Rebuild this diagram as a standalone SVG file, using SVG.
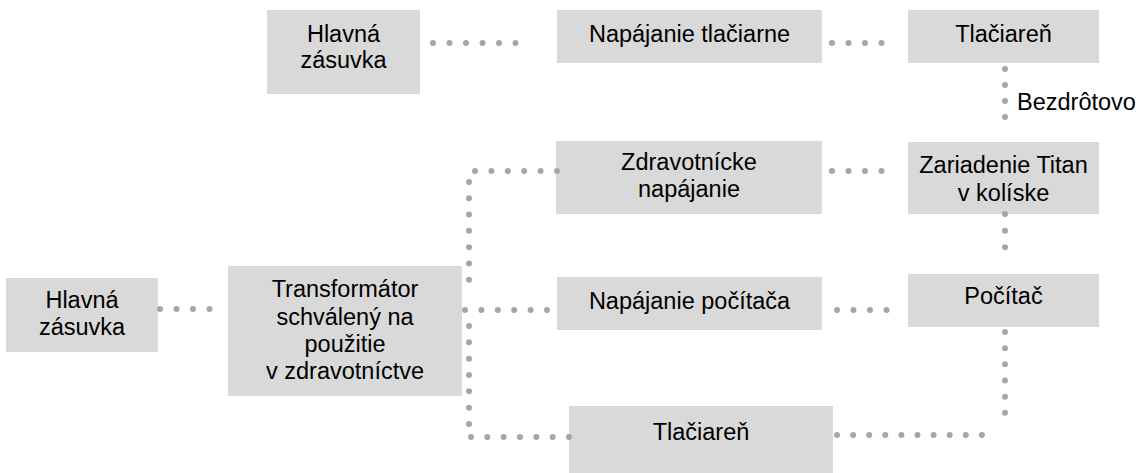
<svg xmlns="http://www.w3.org/2000/svg" width="1143" height="473" viewBox="0 0 1143 473">
<style>
.box{fill:#d9d9d9;}
.t{font-family:"Liberation Sans",Arial,sans-serif;font-size:23.5px;fill:#000;text-anchor:middle;}
.lbl{font-family:"Liberation Sans",Arial,sans-serif;font-size:23.5px;fill:#000;}
.c{fill:none;stroke:#a6a6a6;stroke-width:6;stroke-linecap:round;}
</style>
<rect width="1143" height="473" fill="#fff"/>
<g id="n-hlavna-top">
<rect class="box" x="267" y="10" width="153" height="84"/>
<text class="t" x="343.5" y="42">Hlavná</text>
<text class="t" x="343.5" y="68">zásuvka</text>
</g>
<g id="n-napajanie-tlaciarne">
<rect class="box" x="557" y="10" width="265" height="53"/>
<text class="t" x="689.5" y="42">Napájanie tlačiarne</text>
</g>
<g id="n-tlaciaren-top">
<rect class="box" x="908" y="10" width="191" height="53"/>
<text class="t" x="1003.5" y="42">Tlačiareň</text>
</g>
<g id="n-zdravotnicke">
<rect class="box" x="556" y="141" width="266" height="73"/>
<text class="t" x="689" y="170">Zdravotnícke</text>
<text class="t" x="689" y="197">napájanie</text>
</g>
<g id="n-zariadenie">
<rect class="box" x="908" y="142" width="191" height="72"/>
<text class="t" x="1003.5" y="173">Zariadenie Titan</text>
<text class="t" x="1003.5" y="201">v kolíske</text>
</g>
<g id="n-hlavna-left">
<rect class="box" x="6" y="278" width="152" height="74"/>
<text class="t" x="82" y="308">Hlavná</text>
<text class="t" x="82" y="335">zásuvka</text>
</g>
<g id="n-transformator">
<rect class="box" x="228" y="266" width="234" height="130"/>
<text class="t" x="345" y="297">Transformátor</text>
<text class="t" x="345" y="325">schválený na</text>
<text class="t" x="345" y="352">použitie</text>
<text class="t" x="345" y="379">v zdravotníctve</text>
</g>
<g id="n-napajanie-pocitaca">
<rect class="box" x="557" y="277" width="265" height="53"/>
<text class="t" x="689.5" y="309">Napájanie počítača</text>
</g>
<g id="n-pocitac">
<rect class="box" x="908" y="274" width="191" height="53"/>
<text class="t" x="1003.5" y="304">Počítač</text>
</g>
<g id="n-tlaciaren-bottom">
<rect class="box" x="569" y="406" width="264" height="67"/>
<text class="t" x="701" y="440">Tlačiareň</text>
</g>
<g id="connectors">
<path class="c" d="M433 43H532" stroke-dasharray="0 16.5"/>
<path class="c" d="M832 43H898" stroke-dasharray="0 16.5"/>
<path class="c" d="M1005 69V133" stroke-dasharray="0 16"/>
<path class="c" d="M832 171H898" stroke-dasharray="0 16.5"/>
<path class="c" d="M1005 214V264" stroke-dasharray="0 16.67"/>
<path class="c" d="M837 310H903" stroke-dasharray="0 16.5"/>
<path class="c" d="M160 309H226" stroke-dasharray="0 16.5"/>
<path class="c" d="M469 182V296" stroke-dasharray="0 16.29"/>
<path class="c" d="M475 171H557" stroke-dasharray="0 16.4"/>
<path class="c" d="M465 310H547" stroke-dasharray="0 16.4"/>
<path class="c" d="M469 326V424" stroke-dasharray="0 16.33"/>
<path class="c" d="M471 437H569" stroke-dasharray="0 16.33"/>
<path class="c" d="M837 435H998" stroke-dasharray="0 16.1"/>
<path class="c" d="M1005 332V429" stroke-dasharray="0 16.17"/>
<text class="lbl" x="1017" y="110">Bezdrôtovo</text>
</g>
</svg>
